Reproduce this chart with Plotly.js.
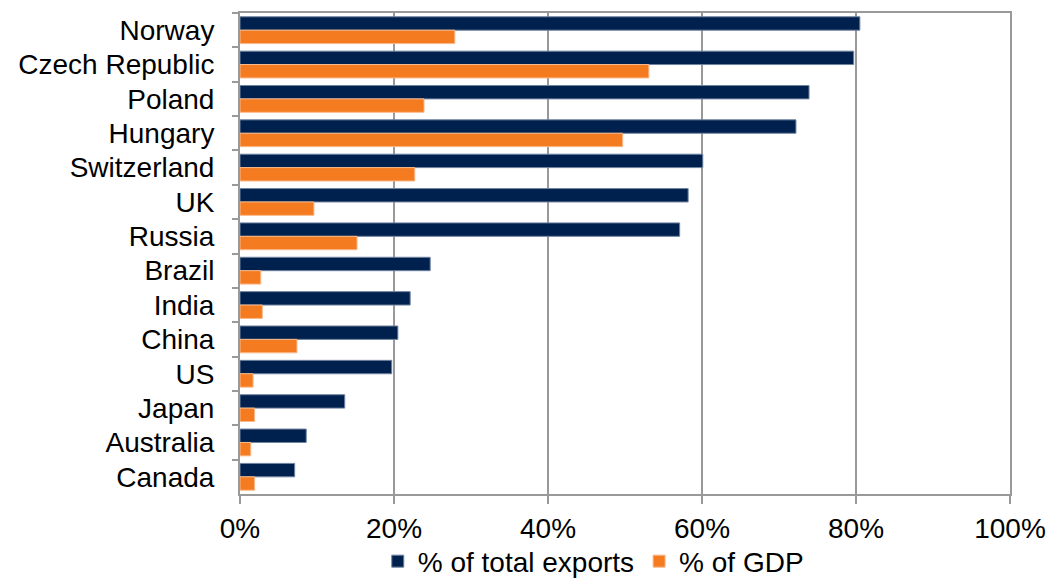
<!DOCTYPE html>
<html>
<head>
<meta charset="utf-8">
<script src="https://cdn.plot.ly/plotly-3.0.1.min.js"></script>
<style>html,body{margin:0;padding:0;background:#fff;}#chart{width:1050px;height:580px;}</style>
</head>
<body>
<div id="chart"></div>
<script>
const countries = ["Norway","Czech Republic","Poland","Hungary","Switzerland","UK","Russia","Brazil","India","China","US","Japan","Australia","Canada"];
const pctTotalExports = [0.805,0.797,0.739,0.722,0.601,0.582,0.571,0.247,0.221,0.205,0.197,0.136,0.086,0.071];
const pctGDP = [0.279,0.531,0.239,0.497,0.227,0.096,0.152,0.027,0.029,0.074,0.017,0.019,0.014,0.019];
const xTickVals = [0,0.2,0.4,0.6,0.8,1.0];
const xTickText = ["0%","20%","40%","60%","80%","100%"];

const traces = [
  {type:"bar", orientation:"h", name:"% of total exports", y:countries, x:pctTotalExports,
   marker:{color:"#00214D", line:{color:"#6F83A0", width:1}}},
  {type:"bar", orientation:"h", name:"% of GDP", y:countries, x:pctGDP,
   marker:{color:"#F47B20", line:{color:"#F9B98A", width:1}}}
];
const layout = {
  width:1050, height:580,
  margin:{l:240, r:40, t:13, b:86, autoexpand:false},
  paper_bgcolor:"#fff", plot_bgcolor:"#fff",
  font:{family:"Liberation Sans, Arial, sans-serif", size:28, color:"#000"},
  barmode:"group", bargap:0.22, bargroupgap:0,
  showlegend:true,
  legend:{orientation:"h", x:0.565, xanchor:"center", xref:"container",
          y:0.032, yanchor:"middle", yref:"container",
          font:{size:28}, traceorder:"normal", bgcolor:"rgba(0,0,0,0)"},
  xaxis:{range:[0,1], tickvals:xTickVals, ticktext:xTickText,
         showgrid:true, gridcolor:"#999", gridwidth:2,
         showline:true, linecolor:"#999", linewidth:2, mirror:true,
         ticks:"outside", ticklen:8, tickwidth:2, tickcolor:"#999",
         zeroline:false, tickfont:{size:28}, fixedrange:true, automargin:false},
  yaxis:{type:"category", autorange:"reversed", tickson:"boundaries",
         showline:true, linecolor:"#999", linewidth:2, mirror:true,
         ticks:"outside", ticklen:6, tickwidth:2, tickcolor:"#999",
         showgrid:false, zeroline:false, tickfont:{size:28}, ticklabelstandoff:18, automargin:false}
};
Plotly.newPlot("chart", traces, layout, {displayModeBar:false, staticPlot:true});
</script>
</body>
</html>
